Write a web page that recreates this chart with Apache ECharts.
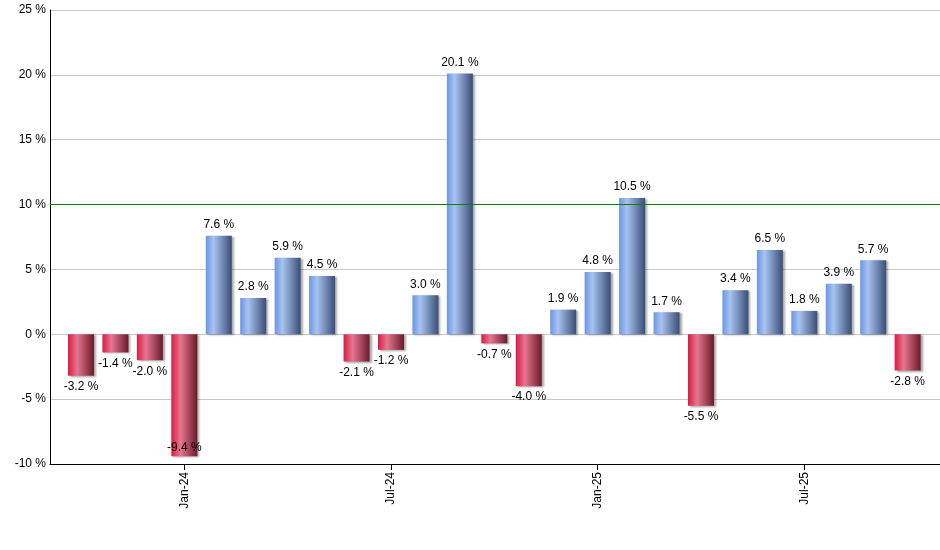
<!DOCTYPE html>
<html><head><meta charset="utf-8">
<script src="https://cdn.jsdelivr.net/npm/echarts@6/dist/echarts.min.js"></script>
<style>html,body{margin:0;padding:0;background:#fff}#c{width:940px;height:550px}</style>
</head><body><div id="c"></div>
<script>
const months = ["Oct-23","Nov-23","Dec-23","Jan-24","Feb-24","Mar-24","Apr-24","May-24","Jun-24","Jul-24","Aug-24","Sep-24","Oct-24","Nov-24","Dec-24","Jan-25","Feb-25","Mar-25","Apr-25","May-25","Jun-25","Jul-25","Aug-25","Sep-25","Oct-25"];
const returns = [-3.2,-1.4,-2.0,-9.4,7.6,2.8,5.9,4.5,-2.1,-1.2,3.0,20.1,-0.7,-4.0,1.9,4.8,10.5,1.7,-5.5,3.4,6.5,1.8,3.9,5.7,-2.8];
const tickMonths = ["Jan-24","Jul-24","Jan-25","Jul-25"];
const yTicks = [-10,-5,0,5,10,15,20,25];
const targetLine = 10;

const blue = new echarts.graphic.LinearGradient(0,0,1,0,[
  {offset:0,color:'#6a96e6'},{offset:0.3,color:'#a8c3f0'},{offset:1,color:'#3a4e76'}]);
const red = new echarts.graphic.LinearGradient(0,0,1,0,[
  {offset:0,color:'#dc1a44'},{offset:0.35,color:'#e6768f'},{offset:1,color:'#6a1a2a'}]);

const tickIdx = tickMonths.map(m => months.indexOf(m));
const chart = echarts.init(document.getElementById('c'), null, {renderer:'canvas'});
chart.setOption({
  animation:false,
  grid:{left:50,right:0,top:10,bottom:86},
  xAxis:{type:'value',min:-0.9,max:24.94,
    axisLine:{show:true,onZero:false,lineStyle:{color:'#000',width:1}},
    splitLine:{show:false},
    axisTick:{show:true,customValues:tickIdx,length:6,lineStyle:{color:'#000'}},
    axisLabel:{show:true,customValues:tickIdx,rotate:90,margin:8,color:'#000',
      fontFamily:'Liberation Sans, Arial, sans-serif',fontSize:12,
      formatter:v=>months[Math.round(v)]}},
  yAxis:{type:'value',min:yTicks[0],max:yTicks[yTicks.length-1],interval:5,
    axisLine:{show:true,onZero:false,lineStyle:{color:'#000',width:1}},
    axisTick:{show:false},
    splitLine:{show:true,lineStyle:{color:'#c8c8c8',width:1}},
    axisLabel:{color:'#000',fontFamily:'Liberation Sans, Arial, sans-serif',fontSize:12,margin:4,
      formatter:v=>v+' %'}},
  series:[{type:'bar',barWidth:26,
    data:returns.map((v,i)=>{
      const neg = v<0;
      const o = {value:[i,v],itemStyle:{color:neg?red:blue}};
      if(neg){
        o.label = (v < -8) ? {position:'insideBottom',distance:3} : {position:'bottom',distance:5};
      }
      return o;
    }),
    itemStyle:{shadowColor:'rgba(0,0,0,0.35)',shadowOffsetX:2,shadowOffsetY:1,shadowBlur:2},
    label:{show:true,position:'top',distance:5,color:'#000',fontFamily:'Liberation Sans, Arial, sans-serif',fontSize:12,
      formatter:p=>p.value[1].toFixed(1)+' %'},
    markLine:{silent:true,symbol:'none',label:{show:false},
      lineStyle:{color:'#008000',width:1,type:'solid'},
      data:[{yAxis:targetLine}]}
  }]
});
</script></body></html>
